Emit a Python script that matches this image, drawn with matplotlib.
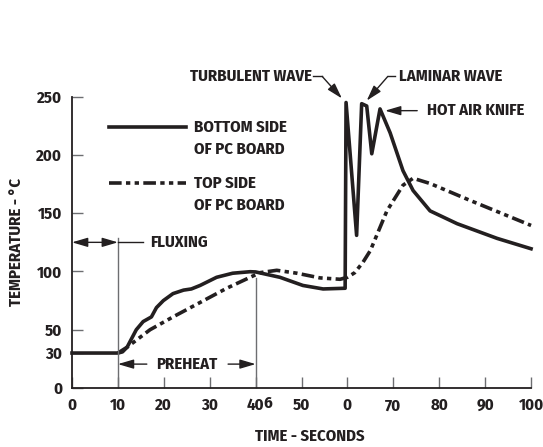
import matplotlib
matplotlib.use("Agg")
import matplotlib.pyplot as plt

# bottom side of PC board (solid)
t_bottom = [0, 5, 10, 11, 12, 14, 15.5, 17.3, 18.4, 19.9, 22, 24.3, 26, 27.9, 31.5, 35, 38.8,
            40, 45.3, 50.3, 54.7, 59.5, 59.7, 62, 63.1, 64.2, 65.3, 67.1, 69.3, 72.1, 74.3,
            78, 83.9, 92.6, 100]
T_bottom = [30, 30, 30, 31, 35, 50, 57, 61, 69, 75, 81, 84, 85, 88, 95, 98.5, 99.8,
            99.6, 95, 88, 85, 85.6, 245, 131, 244, 242, 201, 239.5, 219, 186.5, 169.5,
            152, 141, 128.4, 119.5]

# top side of PC board (dash-dot)
t_top = [10, 12, 17, 22, 28, 33.7, 38.8, 41, 44.6, 49, 54, 58.4, 60, 61.6, 63.4, 65, 68.6,
         72.1, 74.3, 78, 86.7, 100]
T_top = [30, 35, 50, 61, 73.6, 85.6, 95, 99, 101, 98.5, 94.5, 93.3, 95, 99, 108, 118, 152,
         174, 180, 175.5, 161, 139.5]

x_ticks = [0, 10, 20, 30, 40, 50, 60, 70, 80, 90, 100]
x_labels = ["0", "10", "20", "30", "40", "50", "0", "70", "80", "90", "100"]
y_ticks = [0, 30, 50, 100, 150, 200, 250]

ink = "#231f20"
thin = "#6d6e71"
plt.rcParams["font.family"] = ["Fira Sans Condensed", "Roboto Condensed", "PT Sans Narrow",
                               "Archivo Narrow", "DejaVu Sans"]
plt.rcParams["font.weight"] = "bold"
plt.rcParams["axes.labelweight"] = "bold"
fs = 12

fig = plt.figure(figsize=(5.43, 4.47), dpi=100)
ax = fig.add_axes([0.1326, 0.132, 0.8454, 0.6517])

ax.plot(t_bottom, T_bottom, color=ink, lw=2.6, solid_joinstyle="round", clip_on=False)
ax.plot(t_top, T_top, color=ink, lw=2.6, dashes=(3.5, 1.2, 1.2, 1.2, 1.2, 1.2), clip_on=False)

ax.set_xlim(0, 100)
ax.set_ylim(0, 250)
for s in ["top", "right"]:
    ax.spines[s].set_visible(False)
for s in ["left", "bottom"]:
    ax.spines[s].set_linewidth(1.3)
    ax.spines[s].set_color(ink)
ax.set_xticks(x_ticks)
ax.set_xticklabels(x_labels)
ax.set_yticks(y_ticks)
ax.tick_params(direction="in", length=8, width=1, color=thin, labelsize=fs, labelcolor=ink)
ax.tick_params(axis="x", pad=7)
ax.tick_params(axis="y", pad=7)
ax.text(42.7, -6.3, "6", ha="center", va="top", fontsize=fs, color=ink)

ax.set_xlabel("TIME - SECONDS", fontsize=fs, color=ink)
ax.xaxis.set_label_coords(0.518, -0.14)
ax.set_ylabel("TEMPERATURE - °C", fontsize=fs, color=ink)
ax.yaxis.set_label_coords(-0.103, 0.5)

# guide lines
ax.plot([10, 10], [0, 129], color=thin, lw=1)
ax.plot([40, 40], [0, 94], color=thin, lw=1)

arrow = dict(arrowstyle="-|>,head_length=0.95,head_width=0.28", color=ink, lw=1, shrinkA=0, shrinkB=0)
arrow2 = dict(arrowstyle="<|-|>,head_length=0.95,head_width=0.28", color=ink, lw=1, shrinkA=0, shrinkB=0)

# fluxing
ax.annotate("", xy=(10, 125), xytext=(0, 125), arrowprops=arrow2, annotation_clip=False)
ax.plot([10, 15.5], [125, 125], color=ink, lw=1)
ax.text(17, 125, "FLUXING", fontsize=fs, va="center", ha="left", color=ink)

# preheat
ax.annotate("", xy=(10, 20.5), xytext=(16.3, 20.5), arrowprops=arrow)
ax.annotate("", xy=(40, 20.5), xytext=(34, 20.5), arrowprops=arrow)
ax.text(25, 20.5, "PREHEAT", fontsize=fs, va="center", ha="center", color=ink)

# wave labels
ax.text(52.3, 267, "TURBULENT WAVE", fontsize=fs, va="center", ha="right", color=ink)
ax.plot([52.6, 54.5], [267.4, 267.4], color=ink, lw=1, clip_on=False)
ax.annotate("", xy=(58.8, 248.5), xytext=(54.5, 267.4), arrowprops=arrow, annotation_clip=False)

ax.text(71.2, 267, "LAMINAR WAVE", fontsize=fs, va="center", ha="left", color=ink)
ax.plot([70.4, 68.8], [267.4, 267.4], color=ink, lw=1, clip_on=False)
ax.annotate("", xy=(64.2, 246.6), xytext=(68.8, 267.4), arrowprops=arrow, annotation_clip=False)

ax.text(77.3, 238, "HOT AIR KNIFE", fontsize=fs, va="center", ha="left", color=ink)
ax.annotate("", xy=(68.2, 238), xytext=(75.2, 238), arrowprops=arrow)

# key
ax.plot([0.0806, 0.248], [0.897, 0.897], transform=ax.transAxes, color=ink, lw=2.6)
ax.plot([0.0806, 0.248], [0.703, 0.703], transform=ax.transAxes, color=ink, lw=2.6,
        dashes=(3.5, 1.2, 1.2, 1.2, 1.2, 1.2))
ax.text(26.6, 224, "BOTTOM SIDE", fontsize=fs, va="center", color=ink)
ax.text(26.6, 205, "OF PC BOARD", fontsize=fs, va="center", color=ink)
ax.text(26.6, 175.5, "TOP SIDE", fontsize=fs, va="center", color=ink)
ax.text(26.6, 156.5, "OF PC BOARD", fontsize=fs, va="center", color=ink)

fig.savefig("out.png", dpi=100)
